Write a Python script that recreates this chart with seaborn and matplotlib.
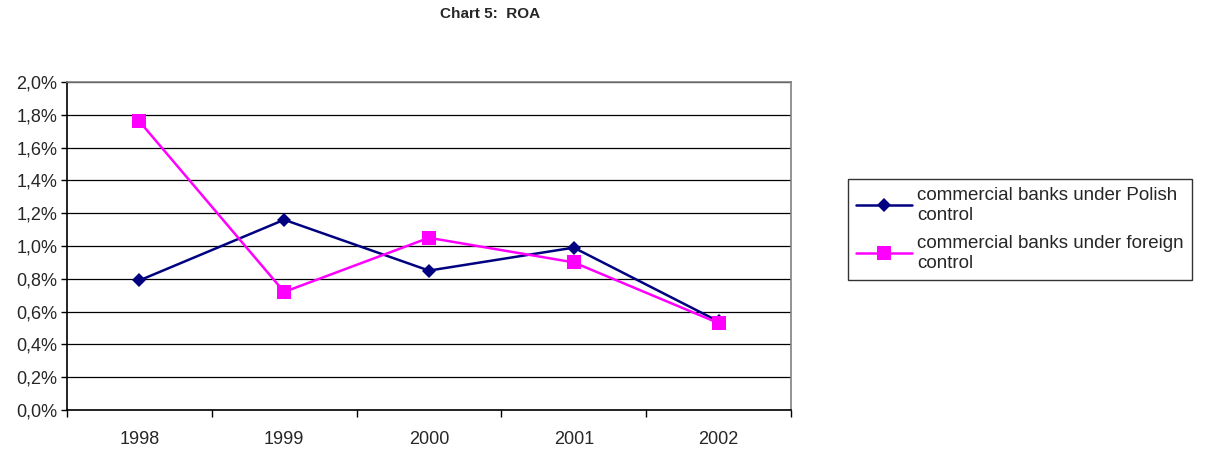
import pandas as pd
import matplotlib
matplotlib.use("Agg")
import matplotlib.pyplot as plt
from matplotlib.ticker import FuncFormatter, FixedLocator
import seaborn as sns

# ROA of commercial banks, in percent
years = ["1998", "1999", "2000", "2001", "2002"]
polish = [0.79, 1.16, 0.85, 0.99, 0.54]
foreign = [1.76, 0.72, 1.05, 0.90, 0.53]
labels = ["commercial banks under Polish\ncontrol", "commercial banks under foreign\ncontrol"]

df = pd.DataFrame({
    "year": years * 2,
    "roa": polish + foreign,
    "group": [labels[0]] * 5 + [labels[1]] * 5,
})

sns.set_style("white")
plt.rcParams["font.family"] = ["Liberation Sans", "DejaVu Sans"]

fig = plt.figure(figsize=(12.07, 4.5), dpi=100)
ax = fig.add_axes([0.0555, 0.0889, 0.5998, 0.7289])

sns.lineplot(data=df, x="year", y="roa", hue="group", style="group",
             palette=["#000080", "#FF00FF"], markers=["D", "s"], dashes=False,
             markersize=9, linewidth=1.8, markeredgewidth=0, ax=ax, sort=False,
             legend=False)

# diamond a bit smaller than the square, like the original
ax.lines[0].set_markersize(7.5)
ax.lines[1].set_markersize(10)
for ln, lab in zip(ax.lines[:2], labels):
    ln.set_label(lab)

ax.set_xlim(-0.5, 4.5)
ax.set_ylim(0, 2.0)
ax.set_yticks([i * 0.2 for i in range(11)])
ax.yaxis.set_major_formatter(FuncFormatter(lambda v, p: f"{v:.1f}%".replace(".", ",")))
ax.yaxis.grid(True, color="black", linewidth=0.9)
ax.set_axisbelow(True)

ax.set_xticks(range(5))
ax.set_xticklabels(years)
ax.xaxis.set_minor_locator(FixedLocator([-0.5, 0.5, 1.5, 2.5, 3.5, 4.5]))
ax.tick_params(axis="x", which="major", length=0, pad=15, labelsize=13)
ax.tick_params(axis="x", which="minor", length=5, width=1, color="black", direction="out", bottom=True)
ax.tick_params(axis="y", length=4, width=1, color="black", direction="out", left=True, labelsize=13, pad=3)

for side in ["left", "bottom"]:
    ax.spines[side].set_color("black")
    ax.spines[side].set_linewidth(1.2)
for side in ["top", "right"]:
    ax.spines[side].set_color("#808080")
    ax.spines[side].set_linewidth(1.2)

ax.set_xlabel("")
ax.set_ylabel("")

leg = ax.legend(handles=ax.lines[:2], loc="upper left", bbox_to_anchor=(1.0785, 0.705),
                frameon=True, fancybox=False, fontsize=13.5, handlelength=3.0,
                handletextpad=0.25, borderpad=0.45, labelspacing=0.6, borderaxespad=0)
leg.get_frame().set_edgecolor("black")
leg.get_frame().set_linewidth(1)

fig.text(0.406, 0.97, "Chart 5:  ROA", ha="center", va="center", fontsize=11, fontweight="bold")

fig.savefig("out.png", dpi=100)
